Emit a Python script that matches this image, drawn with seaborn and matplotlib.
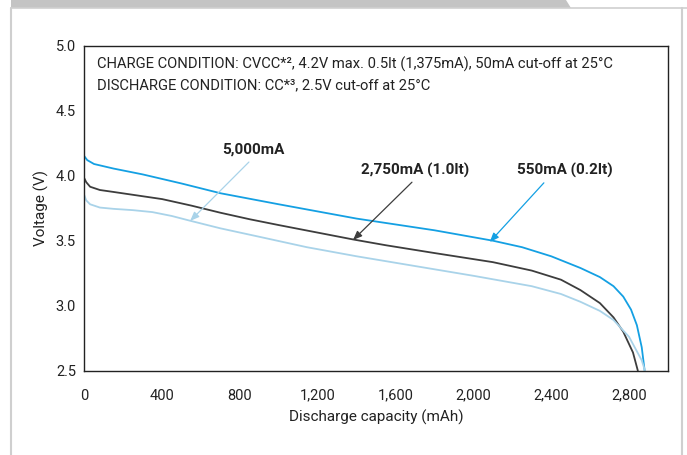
import numpy as np
import pandas as pd
import matplotlib
matplotlib.use("Agg")
import matplotlib.pyplot as plt
from matplotlib.patches import Polygon
from matplotlib.lines import Line2D
import seaborn as sns

# ---------------- data ----------------
cap_550 = [0, 15, 50, 150, 300, 500, 700, 1000, 1400, 1800, 2100, 2250, 2400,
           2550, 2650, 2720, 2770, 2810, 2840, 2865, 2880]
v_550 = [4.15, 4.12, 4.09, 4.055, 4.01, 3.94, 3.865, 3.78, 3.67, 3.58, 3.50, 3.45,
         3.38, 3.29, 3.22, 3.15, 3.07, 2.97, 2.85, 2.68, 2.50]

cap_2750 = [0, 10, 30, 80, 150, 400, 550, 700, 850, 1000, 1380, 1550, 1800, 2100,
            2300, 2450, 2550, 2650, 2720, 2770, 2820, 2845]
v_2750 = [3.98, 3.95, 3.915, 3.89, 3.875, 3.82, 3.77, 3.715, 3.665, 3.62, 3.51,
          3.465, 3.405, 3.335, 3.27, 3.20, 3.12, 3.02, 2.91, 2.80, 2.64, 2.50]

cap_5000 = [0, 10, 30, 80, 150, 250, 350, 450, 540, 700, 900, 1144, 1400, 1700,
            2000, 2300, 2450, 2550, 2650, 2720, 2800, 2865, 2882]
v_5000 = [3.85, 3.81, 3.78, 3.755, 3.745, 3.735, 3.72, 3.69, 3.655, 3.595, 3.53,
          3.45, 3.38, 3.305, 3.23, 3.15, 3.09, 3.03, 2.96, 2.89, 2.76, 2.58, 2.50]

series_names = ["550mA (0.2lt)", "2,750mA (1.0lt)", "5,000mA"]
series_colors = ["#14a0e3", "#3d3d3d", "#a9d3e9"]

x_ticks = [0, 400, 800, 1200, 1600, 2000, 2400, 2800]
x_tick_labels = ["0", "400", "800", "1,200", "1,600", "2,000", "2,400", "2,800"]
y_ticks = [2.5, 3.0, 3.5, 4.0, 4.5, 5.0]
y_tick_labels = ["2.5", "3.0", "3.5", "4.0", "4.5", "5.0"]

x_label = "Discharge capacity (mAh)"
y_label = "Voltage (V)"
header_lines = ["CHARGE CONDITION: CVCC*\u00b2, 4.2V max. 0.5lt (1,375mA), 50mA cut-off at 25\u00b0C",
                "DISCHARGE CONDITION: CC*\u00b3, 2.5V cut-off at 25\u00b0C"]

# label text position, arrow tail, arrow head (data coords)
label_pos = [(2470, 4.04), (1700, 4.04), (867, 4.20)]
arrow_tail = [(2362, 3.945), (1684, 3.95), (846, 4.105)]
arrow_head = [(2084, 3.49), (1381, 3.505), (544, 3.652)]

# ---------------- build frame ----------------
frames = []
for name, c, v in zip(series_names, [cap_550, cap_2750, cap_5000], [v_550, v_2750, v_5000]):
    frames.append(pd.DataFrame({"capacity": c, "voltage": v, "series": name}))
df = pd.concat(frames, ignore_index=True)

sns.set_theme(style="white")
fams = ["Roboto", "DejaVu Sans"]
plt.rcParams["font.family"] = fams

fig = plt.figure(figsize=(6.87, 4.55), dpi=100)
W, H = 687, 455

# decorative page frame
border_col = "#cfcfcf"
fig.add_artist(Line2D([11 / W, 11 / W], [0, 1 - 8 / H], transform=fig.transFigure,
                      color=border_col, lw=1.5))
fig.add_artist(Line2D([682 / W, 682 / W], [0, 1 - 8 / H], transform=fig.transFigure,
                      color=border_col, lw=1.5))
fig.add_artist(Line2D([11 / W, 1], [1 - 8 / H, 1 - 8 / H], transform=fig.transFigure,
                      color=border_col, lw=1.2))
fig.add_artist(Polygon([(11 / W, 1), (566 / W, 1), (571 / W, 1 - 8 / H), (11 / W, 1 - 8 / H)],
                       closed=True, transform=fig.transFigure, facecolor="#c4c4c4",
                       edgecolor="none"))

ax = fig.add_axes([84.3 / W, 1 - 370.7 / H, (668 - 84.3) / W, (370.7 - 45.7) / H])

sns.lineplot(data=df, x="capacity", y="voltage", hue="series",
             palette=dict(zip(series_names, series_colors)), hue_order=series_names,
             estimator=None, sort=False, lw=1.3, legend=False, ax=ax)

ax.set_xlim(0, 3000)
ax.set_ylim(2.5, 5.0)
ax.set_xticks(x_ticks)
ax.set_xticklabels(x_tick_labels)
ax.set_yticks(y_ticks)
ax.set_yticklabels(y_tick_labels)
ax.tick_params(axis="both", direction="in", length=4, width=0.8, color="#222222",
               labelsize=10.5, labelcolor="#222222")
ax.tick_params(axis="x", pad=13)
ax.tick_params(axis="y", pad=6)
ax.set_xlabel(x_label, fontsize=11, color="#222222", labelpad=5)
ax.set_ylabel(y_label, fontsize=11, color="#222222", labelpad=5)
for s in ax.spines.values():
    s.set_color("#222222")
    s.set_linewidth(1.0)

# header text
ax.text(0.021, 0.944, header_lines[0], transform=ax.transAxes, fontsize=10.6,
        color="#222222", va="center", ha="left")
ax.text(0.021, 0.879, header_lines[1], transform=ax.transAxes, fontsize=10.6,
        color="#222222", va="center", ha="left")

# annotations
for name, col, lp, tail, head in zip(series_names, series_colors, label_pos, arrow_tail, arrow_head):
    ax.text(lp[0], lp[1], name, fontsize=11, fontweight="bold", color="#222222",
            ha="center", va="center")
    ax.annotate("", xy=head, xytext=tail,
                arrowprops=dict(arrowstyle="-|>,head_length=0.45,head_width=0.18",
                                color=col, lw=0.9, shrinkA=0, shrinkB=0))

fig.savefig("out.png", dpi=100)
